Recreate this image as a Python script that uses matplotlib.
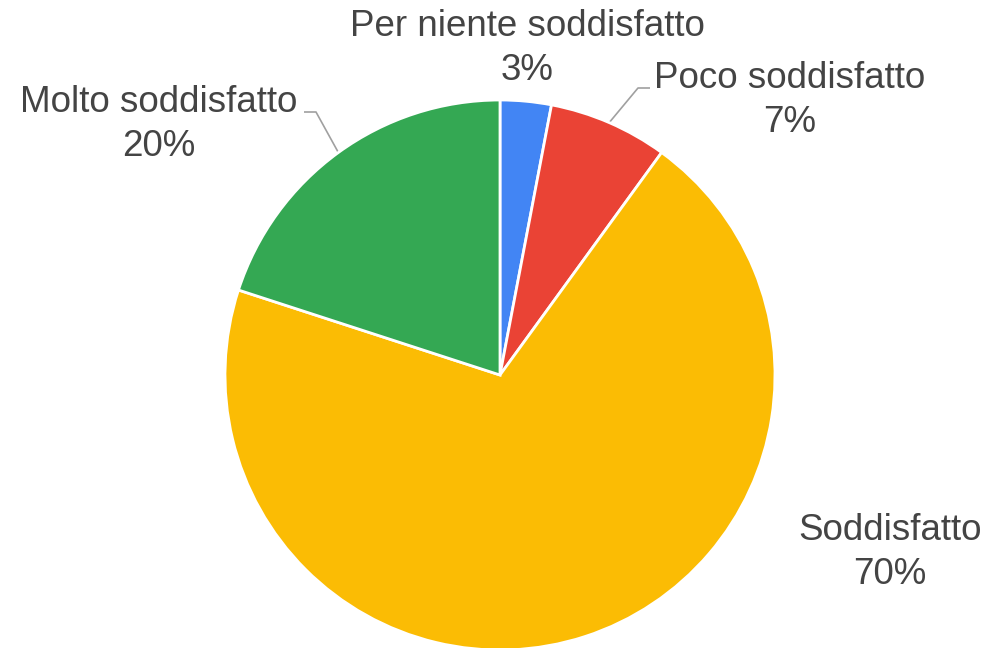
import numpy as np
import matplotlib.pyplot as plt

plt.rcParams['font.family'] = ['Liberation Sans', 'DejaVu Sans']

# risposte al questionario di soddisfazione
categorie = ['Per niente soddisfatto', 'Poco soddisfatto', 'Soddisfatto', 'Molto soddisfatto']
valori = [3, 7, 70, 20]
colori = ['#4285F4', '#EA4335', '#FBBC04', '#34A853']

W, H = 988, 648
centro = (500, H - 375)
raggio = 275

# posizioni delle etichette (pixel dall'alto) e gomito della linea guida
pos_etichette = {
    'Per niente soddisfatto': (527, 27, None),
    'Poco soddisfatto': (790, 78, (638, 88, 650)),
    'Soddisfatto': (890, 530, None),
    'Molto soddisfatto': (159, 102, (316, 112, 304)),
}

fig = plt.figure(figsize=(W / 100, H / 100), dpi=100)
ax = fig.add_axes([0, 0, 1, 1])

wedges, _ = ax.pie(valori, colors=colori, startangle=90, counterclock=False,
                   center=centro, radius=raggio,
                   wedgeprops=dict(edgecolor='white', linewidth=2))

# pie() reimposta i limiti, quindi li fisso dopo
ax.set_xlim(0, W)
ax.set_ylim(0, H)
ax.set_aspect('equal')
ax.axis('off')

testo_col = '#444444'
fs = 26.5
for w, nome, v in zip(wedges, categorie, valori):
    x, y, guida = pos_etichette[nome]
    ax.text(x, H - y, nome, ha='center', va='center', fontsize=fs, color=testo_col)
    ax.text(x, H - y - 44, f'{v}%', ha='center', va='center', fontsize=fs, color=testo_col)
    if guida is not None:
        ang = np.deg2rad((w.theta1 + w.theta2) / 2)
        px = centro[0] + raggio * np.cos(ang)
        py = centro[1] + raggio * np.sin(ang)
        gx, gy, fx = guida
        ax.plot([px, gx, fx], [py, H - gy, H - gy], color='#a0a0a0', lw=1.2,
                solid_capstyle='butt', zorder=0.5)

fig.savefig('out.png', dpi=100)
